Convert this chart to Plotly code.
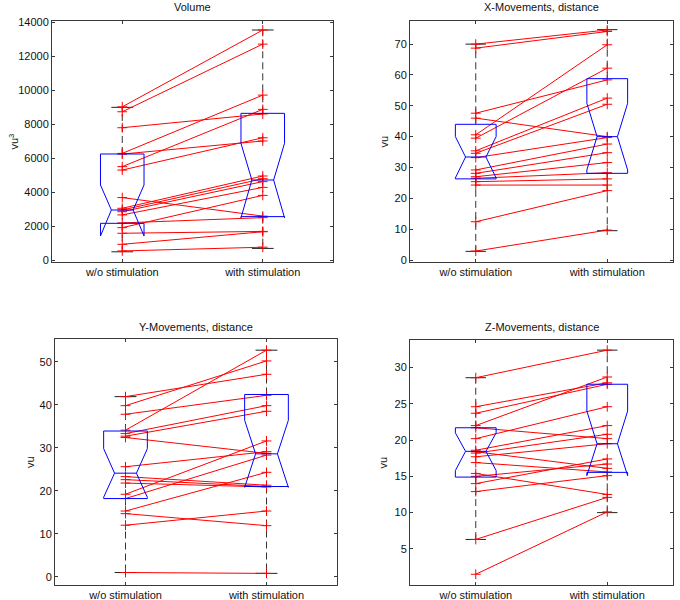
import plotly.graph_objects as go

categories = ["w/o stimulation", "with stimulation"]

# paired values (left = without, right = with stimulation)
vol_wo = [9030, 8740, 7800, 6290, 6250, 5510, 5310, 3690, 3060, 2960, 2860, 2670, 2200, 1920, 1590, 940, 550]
vol_with = [13550, 12720, 8610, 9720, 7020, 8880, 7210, 2600, 4960, 4800, 4630, 4290, 2510, 3820, 1700, 1680, 770]

xmov_wo = [70.0, 68.7, 47.6, 46.0, 40.6, 39.5, 35.4, 34.6, 33.2, 29.2, 28.1, 27.0, 26.5, 25.4, 24.3, 12.4, 2.9]
xmov_with = [74.6, 74.1, 58.4, 40.0, 69.8, 62.2, 52.5, 50.5, 39.7, 37.6, 34.8, 31.6, 28.3, 26.3, 24.3, 22.5, 9.7]

ymov_wo = [41.9, 39.8, 37.8, 34.1, 33.3, 32.7, 32.4, 25.6, 23.3, 22.6, 21.8, 19.2, 18.2, 15.3, 14.7, 12.0, 1.0]
ymov_with = [47.1, 50.2, 42.2, 52.7, 39.8, 38.5, 28.7, 29.1, 21.3, 21.0, 20.9, 31.6, 28.3, 24.3, 11.9, 15.3, 0.8]

zmov_wo = [28.6, 24.6, 23.7, 22.0, 21.7, 20.2, 18.6, 18.4, 18.2, 17.7, 16.9, 15.4, 15.0, 14.0, 12.9, 6.3, 1.5]
zmov_with = [32.4, 27.9, 27.7, 28.7, 20.2, 24.6, 22.0, 16.1, 20.8, 19.5, 15.6, 12.5, 16.7, 17.4, 15.1, 12.1, 10.1]

# box statistics: [whisker_lo, q1, notch_lo, median, notch_hi, q3, whisker_hi]
vol_box = [[500, 2176, 1431, 2960, 4430, 6255, 9000], [700, 2570, 2500, 4725, 6880, 8647, 13550]]
xmov_box = [[2.8, 26.3, 26.6, 33.4, 40.0, 44.0, 70.0], [9.5, 28.1, 29.2, 40.0, 50.8, 58.8, 74.7]]
ymov_box = [[1.0, 18.2, 18.5, 24.1, 29.8, 33.9, 41.9], [0.8, 21.0, 20.8, 28.6, 36.4, 42.4, 52.7]]
zmov_box = [[6.3, 14.9, 15.8, 18.45, 21.0, 21.7, 28.6], [10.0, 15.55, 15.1, 19.5, 24.0, 27.7, 32.4]]

titles = ["Volume", "X-Movements, distance", "Y-Movements, distance", "Z-Movements, distance"]
ylabels = ["vu<sup>3</sup>", "vu", "vu", "vu"]
yticks = [[0, 2000, 4000, 6000, 8000, 10000, 12000, 14000],
          [0, 10, 20, 30, 40, 50, 60, 70],
          [0, 10, 20, 30, 40, 50],
          [5, 10, 15, 20, 25, 30]]
yranges = [[-100, 14080], [-0.65, 77.5], [-1.9, 55.3], [0.02, 33.8]]

W, H = 680, 600
# axes boxes in pixels: (left, right, top, bottom)
boxes_px = [(52, 333, 21, 262), (410, 673, 21, 262), (55, 337, 339, 585), (410, 673, 340, 585)]
ylabel_x = [13, 383, 30, 382]
title_y = [7, 7, 327, 327]

FONT = "Liberation Sans, Arial, sans-serif"
FRAME = "#3a3a3a"
FS = 11

panels = [(vol_wo, vol_with, vol_box), (xmov_wo, xmov_with, xmov_box),
          (ymov_wo, ymov_with, ymov_box), (zmov_wo, zmov_with, zmov_box)]

fig = go.Figure()
hw = 0.155   # box half width
nw = hw / 2  # notch inner half width / cap half width

for i, (wo, wi, stats) in enumerate(panels):
    xa = "x" if i == 0 else f"x{i+1}"
    ya = "y" if i == 0 else f"y{i+1}"
    # whiskers
    for c, s in zip([1, 2], stats):
        lo, q1, nlo, med, nhi, q3, hi = s
        fig.add_trace(go.Scatter(x=[c, c, None, c, c], y=[q3, hi, None, q1, lo], mode="lines",
                                 line=dict(color="#333333", width=1, dash="7px,4px"),
                                 xaxis=xa, yaxis=ya, showlegend=False, hoverinfo="skip"))
        fig.add_trace(go.Scatter(x=[c - nw, c + nw, None, c - nw, c + nw], y=[hi, hi, None, lo, lo], mode="lines",
                                 line=dict(color="#222222", width=1),
                                 xaxis=xa, yaxis=ya, showlegend=False, hoverinfo="skip"))
    # paired red lines with + markers
    xs, ys = [], []
    for a, b in zip(wo, wi):
        xs += [1, 2, None]
        ys += [a, b, None]
    fig.add_trace(go.Scatter(x=xs, y=ys, mode="lines+markers",
                             line=dict(color="#ff0000", width=1),
                             marker=dict(symbol="cross-thin", size=7, line=dict(color="#ff0000", width=1)),
                             xaxis=xa, yaxis=ya, showlegend=False, hoverinfo="skip"))
    # notched boxes
    for c, s in zip([1, 2], stats):
        lo, q1, nlo, med, nhi, q3, hi = s
        bx = [c - hw, c - hw, c - nw, c - hw, c - hw, c + hw, c + hw, c + nw, c + hw, c + hw, c - hw, None, c - nw, c + nw]
        by = [q1, nlo, med, nhi, q3, q3, nhi, med, nlo, q1, q1, None, med, med]
        fig.add_trace(go.Scatter(x=bx, y=by, mode="lines", line=dict(color="#0000ff", width=1),
                                 xaxis=xa, yaxis=ya, showlegend=False, hoverinfo="skip"))

layout = dict(width=W, height=H, margin=dict(l=0, r=0, t=0, b=0, autoexpand=False),
              paper_bgcolor="white", plot_bgcolor="white",
              font=dict(family=FONT, size=FS, color="#111111"), annotations=[])

for i in range(4):
    l, r, t, b = boxes_px[i]
    xk = "xaxis" if i == 0 else f"xaxis{i+1}"
    yk = "yaxis" if i == 0 else f"yaxis{i+1}"
    ya = "y" if i == 0 else f"y{i+1}"
    xa = "x" if i == 0 else f"x{i+1}"
    layout[xk] = dict(domain=[l / W, r / W], range=[0.5, 2.5], anchor=ya, automargin=False,
                      tickvals=[1, 2], ticktext=categories, ticks="inside", ticklen=3,
                      tickcolor=FRAME, showline=True, linecolor=FRAME, linewidth=1, mirror="ticks",
                      showgrid=False, zeroline=False, tickfont=dict(size=FS, family=FONT, color="#111"))
    layout[yk] = dict(domain=[1 - b / H, 1 - t / H], range=yranges[i], anchor=xa, automargin=False,
                      tickvals=yticks[i], ticktext=[str(v) for v in yticks[i]], ticks="inside", ticklen=3,
                      tickcolor=FRAME, showline=True, linecolor=FRAME, linewidth=1, mirror="ticks",
                      showgrid=False, zeroline=False, tickfont=dict(size=FS, family=FONT, color="#111"))
    layout["annotations"].append(dict(text=titles[i], x=(l + r) / 2 / W, y=1 - title_y[i] / H,
                                      xref="paper", yref="paper", showarrow=False,
                                      xanchor="center", yanchor="middle", font=dict(size=FS, family=FONT)))
    layout["annotations"].append(dict(text=ylabels[i], x=ylabel_x[i] / W, y=1 - (t + b) / 2 / H,
                                      xref="paper", yref="paper", showarrow=False, textangle=-90,
                                      xanchor="center", yanchor="middle", font=dict(size=FS, family=FONT)))

fig.update_layout(**layout)
fig.write_html("out.html", config={"displayModeBar": False},
               post_script="document.body.style.margin='0';document.body.style.overflow='hidden';")
